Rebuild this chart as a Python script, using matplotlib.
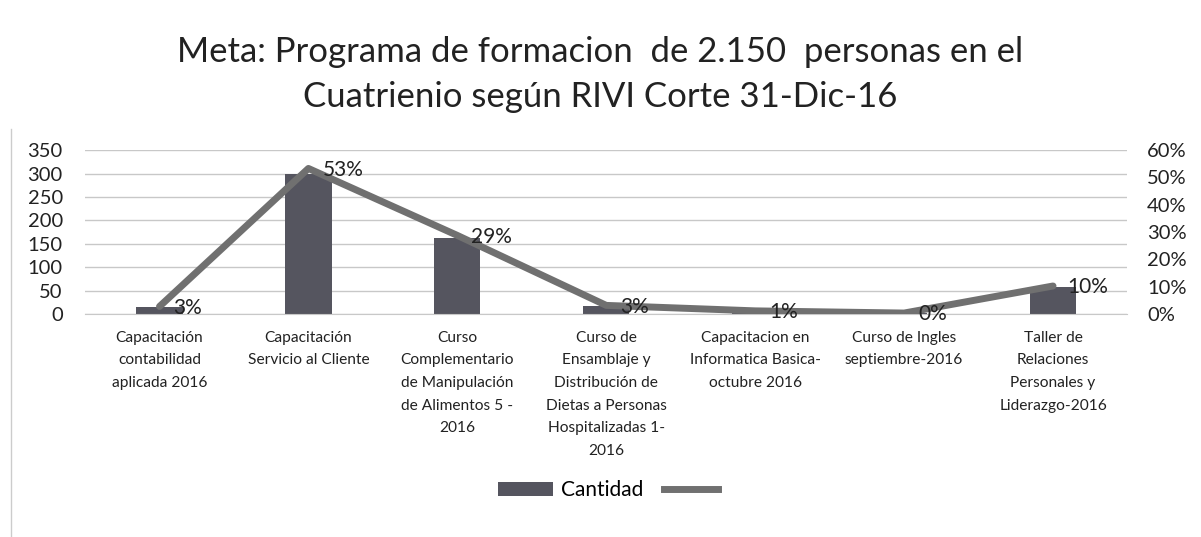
import matplotlib
matplotlib.use("Agg")
import matplotlib.pyplot as plt
from matplotlib.lines import Line2D
from matplotlib.patches import Patch

plt.rcParams['font.family'] = ['Lato', 'DejaVu Sans']

# data
categories = [
    "Capacitación\ncontabilidad\naplicada 2016",
    "Capacitación\nServicio al Cliente",
    "Curso\nComplementario\nde Manipulación\nde Alimentos 5 -\n2016",
    "Curso de\nEnsamblaje y\nDistribución de\nDietas a Personas\nHospitalizadas 1-\n2016",
    "Capacitacion en\nInformatica Basica-\noctubre 2016",
    "Curso de Ingles\nseptiembre-2016",
    "Taller de\nRelaciones\nPersonales y\nLiderazgo-2016",
]
cantidad = [16, 300, 162, 18, 7, 2, 58]
porcentaje = [0.028, 0.533, 0.288, 0.032, 0.012, 0.004, 0.103]
pct_labels = ["3%", "53%", "29%", "3%", "1%", "0%", "10%"]

bar_color = "#55555f"
line_color = "#707070"
text_color = "#222222"

fig = plt.figure(figsize=(12.01, 5.37), dpi=100)
ax = fig.add_axes([0.0708, 0.415, 0.868, 0.3054])
ax2 = ax.twinx()

x = list(range(len(categories)))
ax.bar(x, cantidad, width=0.31, color=bar_color, zorder=2)
ax.set_xlim(-0.5, len(categories) - 0.5)
ax.set_ylim(0, 350)
ax.set_yticks(range(0, 351, 50))
ax.grid(axis="y", color="#c8c8c8", linewidth=1, zorder=0)
ax.set_axisbelow(True)

ax2.plot(x, porcentaje, color=line_color, linewidth=5, solid_capstyle="round", zorder=3)
ax2.set_ylim(0, 0.6)
ax2.set_yticks([i / 10 for i in range(7)])
ax2.set_yticklabels([f"{i * 10}%" for i in range(7)])

for xi, p, lab in zip(x, porcentaje, pct_labels):
    ax2.annotate(lab, (xi, p), xytext=(10, -1), textcoords="offset points",
                 ha="left", va="center", fontsize=15, color=text_color)

for a in (ax, ax2):
    for s in a.spines.values():
        s.set_visible(False)
    a.tick_params(axis="y", length=0, labelsize=14.5, colors=text_color)
ax.spines["bottom"].set_visible(True)
ax.spines["bottom"].set_color("#c8c8c8")
ax.tick_params(axis="x", length=0, pad=12)
ax.set_xticks(x)
ax.set_xticklabels(categories, fontsize=11.2, color=text_color, linespacing=1.78)
ax.tick_params(axis="y", pad=16)
ax2.tick_params(axis="y", pad=14)

fig.text(0.5, 0.862, "Meta: Programa de formacion  de 2.150  personas en el\nCuatrienio según RIVI Corte 31-Dic-16",
         ha="center", va="center", fontsize=25, color=text_color, linespacing=1.5)

handles = [Patch(facecolor=bar_color), Line2D([0], [0], color=line_color, linewidth=5)]
fig.legend(handles, ["Cantidad", ""], loc="center", bbox_to_anchor=(0.51, 0.087),
           ncol=2, frameon=False, fontsize=15, handlelength=2.6, handletextpad=0.4,
           columnspacing=1.0)

fig.add_artist(Line2D([0.009, 0.009], [0.0, 0.76], color="#cccccc", linewidth=1))

fig.savefig("out.png", dpi=100)
